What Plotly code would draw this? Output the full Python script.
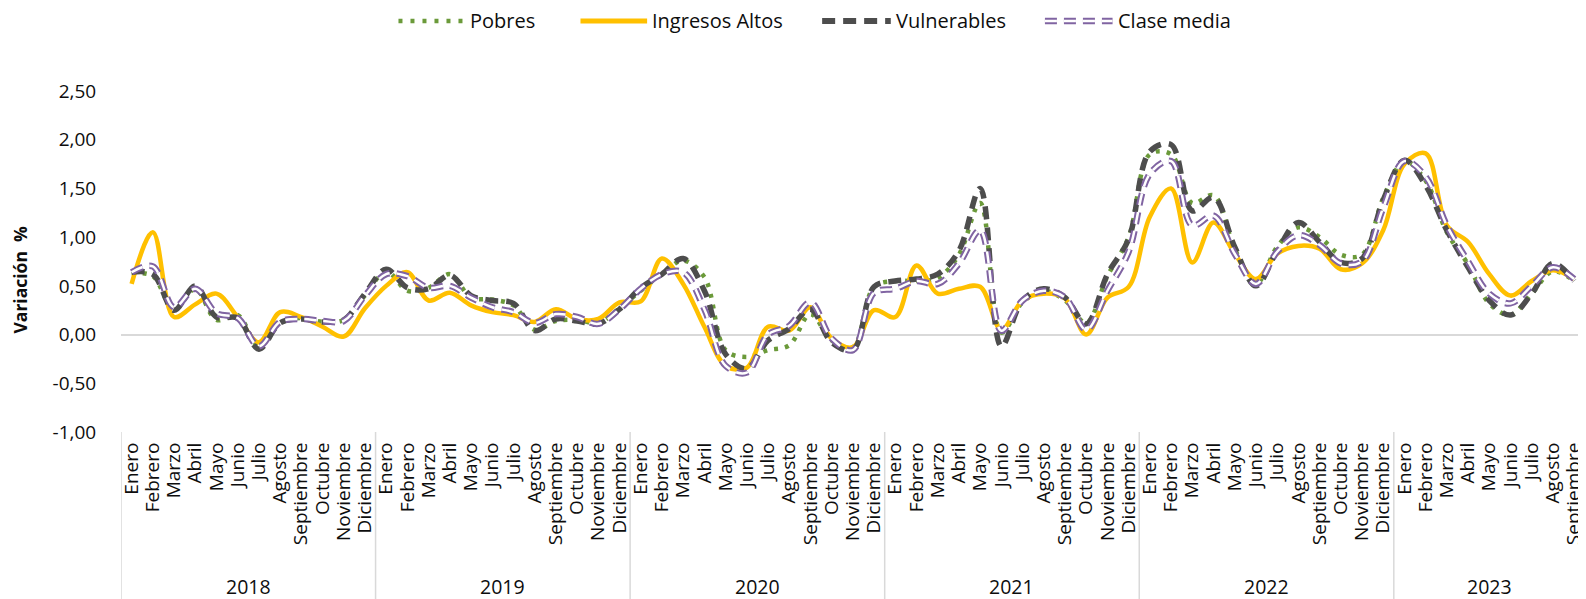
import plotly.graph_objects as go

# ---------------- data ----------------
months = ["Enero", "Febrero", "Marzo", "Abril", "Mayo", "Junio", "Julio",
          "Agosto", "Septiembre", "Octubre", "Noviembre", "Diciembre"]
years = ["2018", "2019", "2020", "2021", "2022", "2023"]
months_per_year = [12, 12, 12, 12, 12, 9]

pobres = [
    0.63, 0.60, 0.25, 0.47, 0.15, 0.20, -0.12, 0.12, 0.17, 0.13, 0.15, 0.40,
    0.65, 0.45, 0.48, 0.62, 0.38, 0.36, 0.30, 0.05, 0.14, 0.15, 0.12, 0.27,
    0.45, 0.62, 0.76, 0.59, -0.16, -0.23, -0.16, -0.11, 0.21, -0.06, -0.13, 0.49,
    0.55, 0.55, 0.58, 0.82, 1.35, 0.02, 0.33, 0.45, 0.35, 0.12, 0.60, 1.00,
    1.85, 1.85, 1.35, 1.43, 0.88, 0.52, 0.90, 1.10, 1.00, 0.82, 0.82, 1.40,
    1.78, 1.58, 1.05, 0.72, 0.32, 0.20, 0.42, 0.65, 0.55,
]
ingresos_altos = [
    0.52, 1.05, 0.18, 0.31, 0.42, 0.18, -0.08, 0.23, 0.18, 0.08, -0.02, 0.27,
    0.50, 0.64, 0.35, 0.43, 0.30, 0.23, 0.20, 0.13, 0.26, 0.16, 0.16, 0.33,
    0.34, 0.78, 0.52, 0.08, -0.32, -0.34, 0.08, 0.04, 0.28, -0.04, -0.13, 0.25,
    0.18, 0.71, 0.42, 0.47, 0.49, 0.05, 0.35, 0.42, 0.37, 0.00, 0.38, 0.49,
    1.21, 1.50, 0.74, 1.15, 0.83, 0.57, 0.83, 0.91, 0.88, 0.67, 0.73, 1.07,
    1.75, 1.86, 1.12, 0.95, 0.62, 0.40, 0.55, 0.66, 0.57,
]
vulnerables = [
    0.64, 0.62, 0.25, 0.50, 0.18, 0.17, -0.15, 0.12, 0.16, 0.13, 0.15, 0.42,
    0.67, 0.48, 0.47, 0.61, 0.40, 0.35, 0.32, 0.04, 0.16, 0.14, 0.11, 0.26,
    0.48, 0.62, 0.78, 0.45, -0.20, -0.35, -0.06, 0.06, 0.26, -0.08, -0.16, 0.49,
    0.55, 0.57, 0.62, 0.86, 1.50, -0.12, 0.35, 0.47, 0.38, 0.11, 0.62, 0.98,
    1.88, 1.95, 1.27, 1.41, 0.90, 0.50, 0.86, 1.15, 0.95, 0.74, 0.78, 1.38,
    1.79, 1.53, 1.07, 0.69, 0.35, 0.20, 0.42, 0.73, 0.55,
]
clase_media = [
    0.64, 0.70, 0.28, 0.47, 0.22, 0.17, -0.12, 0.13, 0.16, 0.14, 0.14, 0.40,
    0.62, 0.60, 0.48, 0.50, 0.38, 0.28, 0.23, 0.12, 0.21, 0.18, 0.11, 0.26,
    0.47, 0.62, 0.64, 0.26, -0.32, -0.39, 0.00, 0.09, 0.33, -0.04, -0.16, 0.43,
    0.47, 0.55, 0.52, 0.73, 1.07, 0.04, 0.35, 0.45, 0.38, 0.05, 0.45, 0.85,
    1.65, 1.78, 1.12, 1.22, 0.83, 0.52, 0.85, 1.02, 0.92, 0.73, 0.75, 1.30,
    1.78, 1.62, 1.12, 0.75, 0.42, 0.32, 0.50, 0.69, 0.57,
]

y_ticks = [-1.0, -0.5, 0.0, 0.5, 1.0, 1.5, 2.0, 2.5]
y_title = "Variación  %"

# ---------------- build ----------------
month_labels = []
for yr, n in zip(years, months_per_year):
    month_labels += months[:n]
x = list(range(len(month_labels)))
y_ticktext = [f"{v:.2f}".replace(".", ",") for v in y_ticks]

FONT = "Open Sans"
TXT = "#0d0d0d"
GREEN = "#6B9A3A"
GOLD = "#FFC000"
GREY = "#4D4D4D"
PURPLE = "#8064A2"

OFF = 8                      # default page body margin
W, H = 1586 - OFF, 599 - OFF
L, R, T, B = 121 - OFF, 0, 91 - OFF, 167
pw, ph = W - L - R, H - T - B
MONTH_PX = 21.33


def px_x(p):                 # page pixel -> paper x
    return (p - OFF - L) / pw


def px_y(p):                 # page pixel -> paper y
    return ((H - B) - (p - OFF)) / ph


SPL = dict(shape="spline", smoothing=1.0)
fig = go.Figure()
fig.add_trace(go.Scatter(x=x, y=pobres, name="Pobres", mode="lines",
                         line=dict(color=GREEN, width=4.5, dash="4px,7px", **SPL)))
fig.add_trace(go.Scatter(x=x, y=ingresos_altos, name="Ingresos Altos", mode="lines",
                         line=dict(color=GOLD, width=4.5, **SPL)))
fig.add_trace(go.Scatter(x=x, y=vulnerables, name="Vulnerables", mode="lines",
                         line=dict(color=GREY, width=5.5, dash="13px,8px", **SPL)))
fig.add_trace(go.Scatter(x=x, y=clase_media, name="Clase media", mode="lines",
                         line=dict(color=PURPLE, width=6.5, dash="12px,7px", **SPL)))
fig.add_trace(go.Scatter(x=x, y=clase_media, name="Clase media", mode="lines",
                         showlegend=False, hoverinfo="skip",
                         line=dict(color="white", width=2.5, dash="12px,7px", **SPL)))

shapes = []
annotations = []

# year separators and labels
start = 0
for yr, n in zip(years, months_per_year):
    shapes.append(dict(type="line", xref="x", yref="paper",
                       x0=start - 0.5, x1=start - 0.5, y0=0, y1=px_y(600),
                       line=dict(color="#D9D9D9", width=1.5)))
    annotations.append(dict(text=yr, xref="x", yref="paper",
                            x=start + (n - 1) / 2, y=px_y(586),
                            xanchor="center", yanchor="middle", showarrow=False,
                            font=dict(family=FONT, size=19.5, color=TXT)))
    start += n

# y-axis title
annotations.append(dict(text="<b>" + y_title + "</b>", xref="paper", yref="paper",
                        x=px_x(19), y=px_y(280), textangle=-90,
                        xanchor="center", yanchor="middle", showarrow=False,
                        font=dict(family=FONT, size=17.5, color=TXT)))

# custom legend
legend_items = [
    ("Pobres", 400, 467, dict(color=GREEN, width=4.5, dash="4px,8px"), None),
    ("Ingresos Altos", 583, 650, dict(color=GOLD, width=5), None),
    ("Vulnerables", 826, 895, dict(color=GREY, width=6, dash="13px,8px"), None),
    ("Clase media", 1050, 1118, dict(color=PURPLE, width=6.5, dash="12px,7px"),
     dict(color="white", width=2.5, dash="12px,7px")),
]
ly = px_y(21)
for name, a, b, ln, inner in legend_items:
    shapes.append(dict(type="line", xref="paper", yref="paper",
                       x0=px_x(a), x1=px_x(b), y0=ly, y1=ly, line=ln))
    if inner:
        shapes.append(dict(type="line", xref="paper", yref="paper",
                           x0=px_x(a), x1=px_x(b), y0=ly, y1=ly, line=inner))
    annotations.append(dict(text=name, xref="paper", yref="paper",
                            x=px_x(b + 4), y=ly, xanchor="left", yanchor="middle",
                            showarrow=False, borderpad=0,
                            font=dict(family=FONT, size=20, color=TXT)))

fig.update_layout(
    width=W, height=H,
    margin=dict(l=L, r=R, t=T, b=B, pad=0),
    paper_bgcolor="white", plot_bgcolor="white",
    showlegend=False,
    font=dict(family=FONT, size=19, color=TXT),
    shapes=shapes, annotations=annotations,
    xaxis=dict(range=[-0.5, (pw / MONTH_PX) - 0.5], tickmode="array",
               tickvals=x, ticktext=month_labels, tickangle=-90,
               ticklabeloverflow="allow",
               showgrid=False, zeroline=False, showline=False,
               ticks="outside", ticklen=2, tickcolor="rgba(0,0,0,0)",
               tickfont=dict(family=FONT, size=19, color=TXT)),
    yaxis=dict(range=[-1.0, 2.5], tickmode="array", tickvals=y_ticks,
               ticktext=y_ticktext, showgrid=False, zeroline=True,
               zerolinecolor="#D9D9D9", zerolinewidth=2, showline=False,
               ticks="outside", ticklen=20, tickcolor="rgba(0,0,0,0)",
               tickfont=dict(family=FONT, size=19, color=TXT)),
)

fig.write_html("out.html")
